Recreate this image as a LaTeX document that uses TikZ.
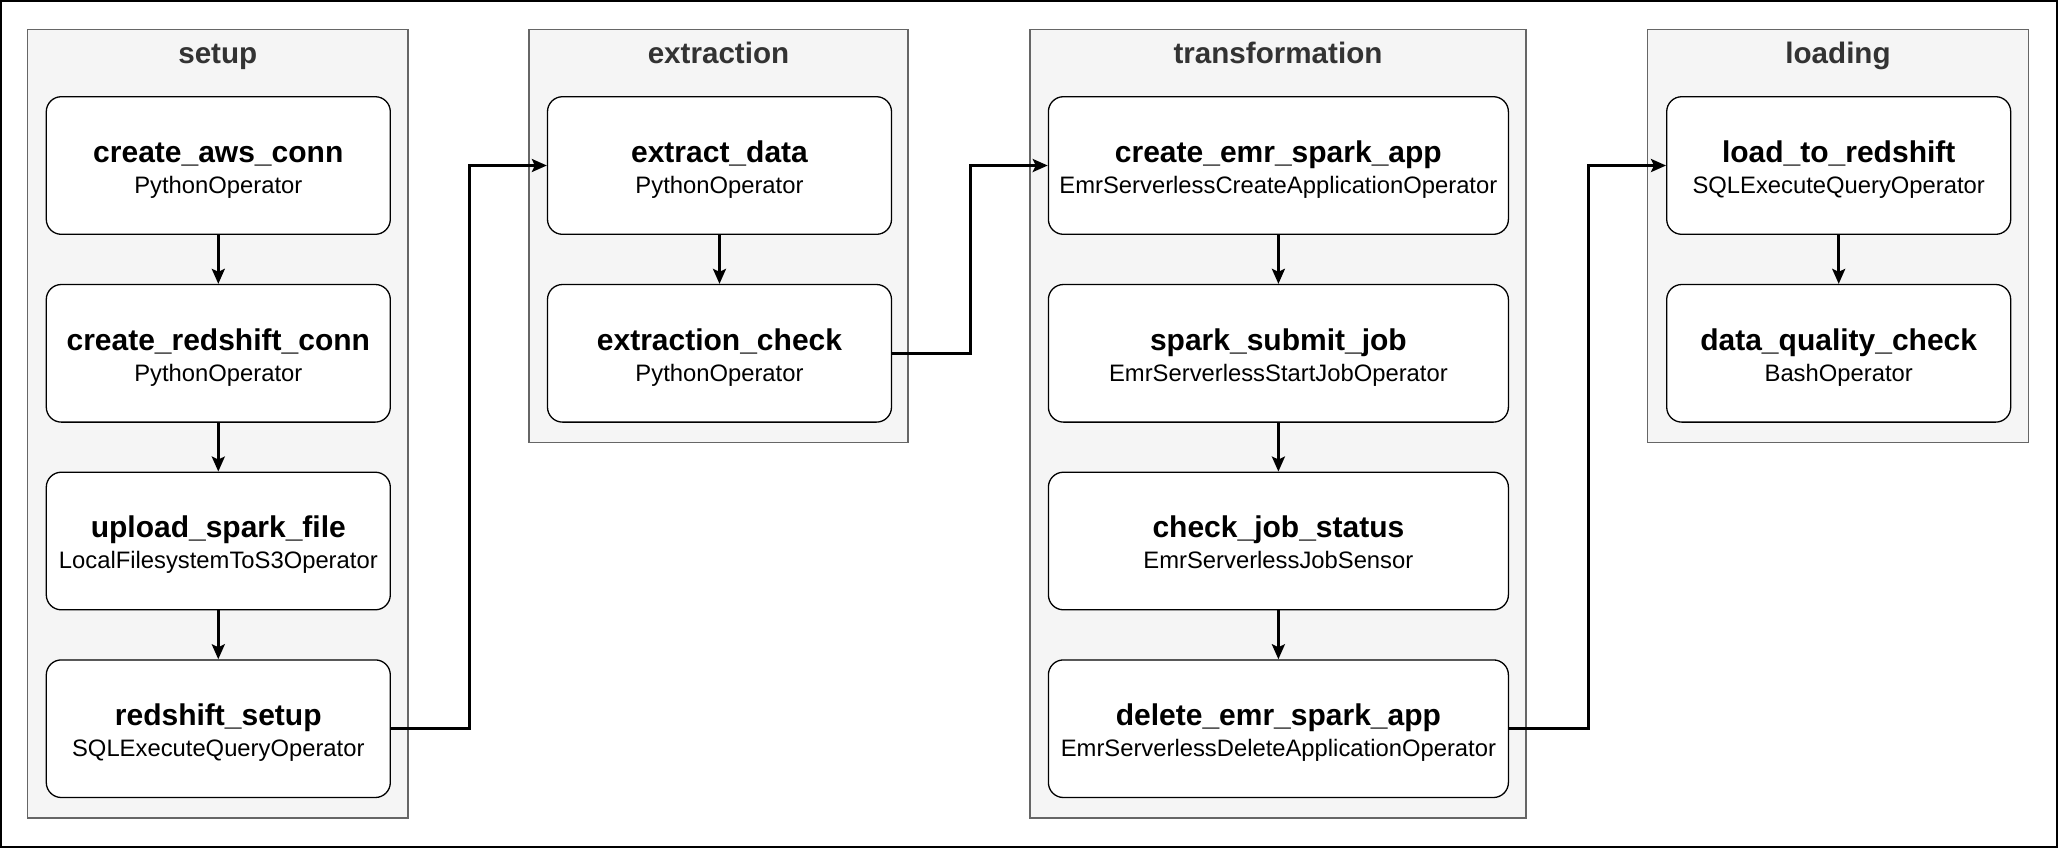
\documentclass[tikz,border=0pt]{standalone}
\usepackage{fontspec}
\setmainfont{Liberation Sans}
\usetikzlibrary{arrows.meta}
\definecolor{grpfill}{HTML}{F5F5F5}
\definecolor{grpline}{HTML}{666666}
\definecolor{grptext}{HTML}{333333}
\newcommand{\tasktext}[2]{{\fontsize{15}{15.5}\selectfont\bfseries\rule{0pt}{14.8pt}#1}\\{#2\vphantom{y}}}
\begin{document}
\begin{tikzpicture}[x=0.5pt,y=-0.5pt,
  group/.style={draw=grpline,fill=grpfill,line width=0.65pt},
  grouptitle/.style={anchor=base,text=grptext,font=\fontsize{14.8}{16}\selectfont\bfseries},
  task/.style={draw,fill=white,rounded corners=7.5pt,line width=0.65pt,minimum width=172pt,minimum height=68.8pt,inner sep=0pt,align=center,font=\fontsize{11.9}{15.5}\selectfont},
  wide/.style={minimum width=230pt},
  flow/.style={line width=1.4pt,-{Stealth[length=7.5pt,width=6.5pt,inset=1.5pt]}}]
\useasboundingbox (0,0) rectangle (2058,848);
\draw[line width=0.8pt] (1,1) rectangle (2057,847);
% groups
\draw[group] (27.6,29.3) rectangle (408,818);
\draw[group] (529,29.3) rectangle (908,442.3);
\draw[group] (1030,29.3) rectangle (1526,818);
\draw[group] (1647.7,29.3) rectangle (2028.3,442.3);
\node[grouptitle] (setuptitle) at (217.8,63.5) {setup};
\node[grouptitle] (extracttitle) at (718.5,63.5) {extraction};
\node[grouptitle] (transformtitle) at (1278,63.5) {transformation};
\node[grouptitle] (loadtitle) at (1838,63.5) {loading};
% setup
\node[task] (awsconn) at (218.3,165.5) {\tasktext{create\_aws\_conn}{PythonOperator}};
\node[task] (rsconn) at (218.3,353.3) {\tasktext{create\_redshift\_conn}{PythonOperator}};
\node[task] (sparkfile) at (218.3,541) {\tasktext{upload\_spark\_file}{LocalFilesystemToS3Operator}};
\node[task] (rssetup) at (218.3,728.7) {\tasktext{redshift\_setup}{SQLExecuteQueryOperator}};
% extraction
\node[task] (extract) at (719.5,165.5) {\tasktext{extract\_data}{PythonOperator}};
\node[task] (extcheck) at (719.5,353.3) {\tasktext{extraction\_check}{PythonOperator}};
% transformation
\node[task,wide] (emrapp) at (1278.4,165.5) {\tasktext{create\_emr\_spark\_app}{EmrServerlessCreateApplicationOperator}};
\node[task,wide] (sparkjob) at (1278.4,353.3) {\tasktext{spark\_submit\_job}{EmrServerlessStartJobOperator}};
\node[task,wide] (jobstatus) at (1278.4,541) {\tasktext{check\_job\_status}{EmrServerlessJobSensor}};
\node[task,wide] (delapp) at (1278.4,728.7) {\tasktext{delete\_emr\_spark\_app}{EmrServerlessDeleteApplicationOperator}};
% loading
\node[task] (loadrs) at (1838.7,165.5) {\tasktext{load\_to\_redshift}{SQLExecuteQueryOperator}};
\node[task] (dqcheck) at (1838.7,353.3) {\tasktext{data\_quality\_check}{BashOperator}};
% arrows
\draw[flow] (awsconn) -- (rsconn);
\draw[flow] (rsconn) -- (sparkfile);
\draw[flow] (sparkfile) -- (rssetup);
\draw[flow] (extract) -- (extcheck);
\draw[flow] (emrapp) -- (sparkjob);
\draw[flow] (sparkjob) -- (jobstatus);
\draw[flow] (jobstatus) -- (delapp);
\draw[flow] (loadrs) -- (dqcheck);
\draw[flow] (rssetup.east) -- ++(78.4,0) |- (extract.west);
\draw[flow] (extcheck.east) -- ++(78.6,0) |- (emrapp.west);
\draw[flow] (delapp.east) -- ++(79.3,0) |- (loadrs.west);
\end{tikzpicture}
\end{document}
